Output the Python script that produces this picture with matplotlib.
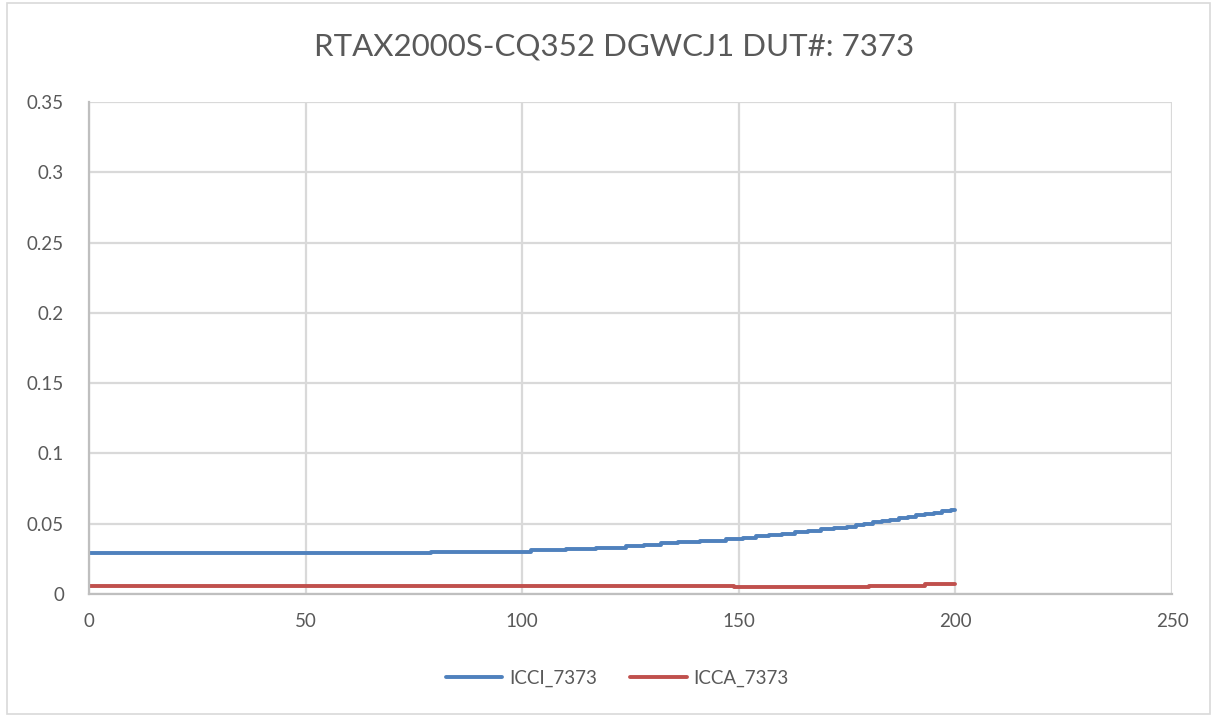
import matplotlib.pyplot as plt
from matplotlib.patches import Rectangle

# ICCI / ICCA current vs dose (stepped, 0.001 resolution)
icci_x = [0, 79, 102, 110, 117, 124, 128, 132, 136, 141, 147, 151, 154, 157, 160,
          163, 166, 169, 172, 175, 177, 179, 181, 183, 185, 187, 189, 191, 193, 195,
          197, 199, 200]
icci_y = [0.029, 0.030, 0.031, 0.032, 0.033, 0.034, 0.035, 0.036, 0.037, 0.038,
          0.039, 0.040, 0.041, 0.042, 0.043, 0.044, 0.045, 0.046, 0.047, 0.048,
          0.049, 0.050, 0.051, 0.052, 0.053, 0.054, 0.055, 0.056, 0.057, 0.058,
          0.059, 0.060, 0.060]

icca_x = [0, 149, 180, 193, 200]
icca_y = [0.006, 0.005, 0.006, 0.007, 0.007]

title = "RTAX2000S-CQ352 DGWCJ1 DUT#: 7373"
x_ticks = [0, 50, 100, 150, 200, 250]
y_ticks = [0, 0.05, 0.1, 0.15, 0.2, 0.25, 0.3, 0.35]
y_labels = ["0", "0.05", "0.1", "0.15", "0.2", "0.25", "0.3", "0.35"]

plt.rcParams["font.family"] = ["Lato", "DejaVu Sans"]
txt = "#595959"
grid = "#d9d9d9"

fig = plt.figure(figsize=(12.15, 7.17), dpi=100)
ax = fig.add_axes([0.0733, 0.1715, 0.8913, 0.6862])

ax.plot(icci_x, icci_y, drawstyle="steps-post", color="#4F81BD", lw=2.8,
        label="ICCI_7373", solid_capstyle="round")
ax.plot(icca_x, icca_y, drawstyle="steps-post", color="#C0504D", lw=2.8,
        label="ICCA_7373", solid_capstyle="round")

ax.set_xlim(0, 250)
ax.set_ylim(0, 0.35)
ax.set_xticks(x_ticks)
ax.set_yticks(y_ticks)
ax.set_yticklabels(y_labels)
ax.tick_params(length=0, labelsize=13.5, labelcolor=txt)
ax.tick_params(axis="x", pad=14)
ax.tick_params(axis="y", pad=18)
ax.grid(True, color=grid, lw=1.6)
ax.set_axisbelow(True)
for s in ["top", "right"]:
    ax.spines[s].set_visible(False)
for s in ["left", "bottom"]:
    ax.spines[s].set_color("#bfbfbf")
    ax.spines[s].set_linewidth(1.6)

fig.text(0.505, 0.935, title, ha="center", va="center", fontsize=22.5, color=txt)

fig.legend(loc="center", bbox_to_anchor=(0.508, 0.054), ncol=2, frameon=False,
           fontsize=13.5, labelcolor=txt, handlelength=3.0, columnspacing=1.8,
           handletextpad=0.35)

fig.patches.append(Rectangle((0.006, 0.004), 0.99, 0.992, transform=fig.transFigure,
                             fill=False, edgecolor="#d9d9d9", lw=1.2))

fig.savefig("out.png", dpi=100)
